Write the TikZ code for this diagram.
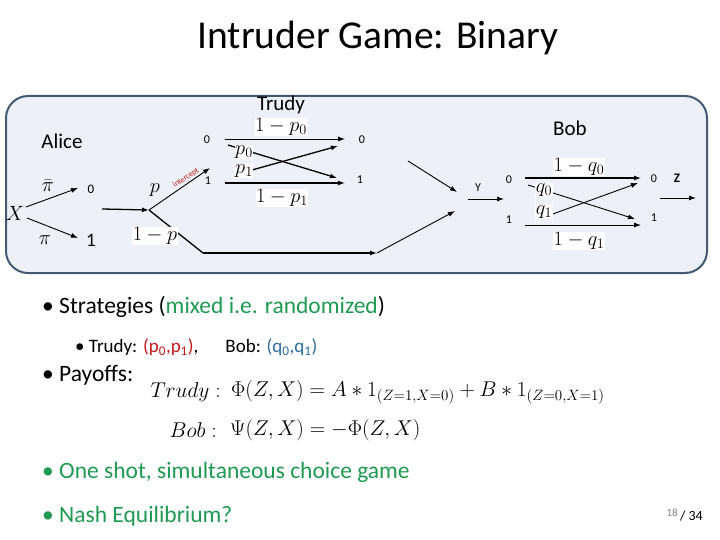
\RequirePackage{fix-cm}
\documentclass[tikz,border=0pt]{standalone}
\usepackage{fontspec}
\setmainfont{Carlito}
\usepackage{amsmath}
\usetikzlibrary{arrows.meta}
\definecolor{boxfill}{HTML}{EDF1F7}
\definecolor{boxline}{HTML}{435A75}
\definecolor{grn}{HTML}{1F9A52}
\definecolor{rd}{HTML}{C41A1A}
\definecolor{bl}{HTML}{2A6E9E}
\tikzset{
  arr/.style={-{Latex[length=7pt,width=5pt]}, line width=1.3pt},
  thin arr/.style={-{Latex[length=7pt,width=5pt]}, line width=0.9pt},
  mlbl/.style={fill=white, inner sep=0.5pt, font=\fontsize{20.4}{20.4}\selectfont},
  bit/.style={inner sep=0pt, font=\fontsize{12}{12}\selectfont},
  who/.style={inner sep=0pt, font=\fontsize{21}{21}\selectfont},
  body/.style={inner sep=0pt, anchor=west, font=\fontsize{23.5}{23.5}\selectfont},
  eqn/.style={inner sep=0pt, font=\fontsize{21.4}{21.4}\selectfont},
}
\begin{document}
\begin{tikzpicture}[x=1pt,y=-1pt]
\useasboundingbox (0,0) rectangle (720,540);
% title
\node[inner sep=0pt, font=\fontsize{39.5}{39.5}\selectfont] (title) at (378,38) {Intruder Game: Binary};
% box
\draw[rounded corners=22pt, line width=2pt, draw=boxline, fill=boxfill] (6,96) rectangle (707,273);
% players
\node[who] (trudy) at (281,105) {Trudy};
\node[who] (alice) at (62,141) {Alice};
\node[who] (bob) at (570,128) {Bob};
% Alice tree
\node[inner sep=0pt, font=\fontsize{20.7}{20.7}\selectfont] (X) at (15,213) {$X$};
\coordinate (xu) at (26,207);
\coordinate (xd) at (27,218);
\coordinate (a0) at (78,188);
\coordinate (a1) at (78,238);
\draw[thin arr] (xu) -- (a0);
\draw[thin arr] (xd) -- (a1);
\node[mlbl, fill=none] (pibar) at (48,186) {$\bar{\pi}$};
\node[mlbl, fill=none] (pi) at (45,240) {$\pi$};
\node[bit, font=\fontsize{13}{13}\selectfont] (A0) at (91,189) {0};
\node[bit, font=\fontsize{19}{19}\selectfont] (A1) at (91,240) {1};
% channel
\coordinate (h0) at (102,209);
\coordinate (br) at (149,210);
\draw[arr] (h0) -- (br);
\coordinate (tu) at (210,168);
\coordinate (ld) at (203,253);
\coordinate (lr) at (377,253);
\coordinate (ye) at (455,211);
\draw[thin arr] (br) -- (tu);
\draw[line width=1.3pt] (br) -- (ld);
\draw[arr] (ld) -- (lr);
\draw[thin arr] (lr) -- (ye);
\node[mlbl, fill=none] (plbl) at (155,190) {$p$};
\node[mlbl] (qlbl) at (155,236) {$1-p$};
\node[inner sep=0pt, text=rd, rotate=34, font=\fontsize{8}{8}\selectfont] (icpt) at (186,178) {intercept};
% Trudy
\node[bit] (T0) at (207,140) {0};
\node[bit] (T1) at (208,181) {1};
\coordinate (t0s) at (225,139);
\coordinate (t0e) at (345,139);
\coordinate (t1s) at (225,183);
\coordinate (t1e) at (345,183);
\coordinate (c1s) at (228,145);
\coordinate (c1e) at (337,178);
\coordinate (c2s) at (252,170);
\coordinate (c2e) at (338,146);
\draw[thin arr] (t0s) -- (t0e);
\draw[arr] (t1s) -- (t1e);
\draw[arr] (c1s) -- (c1e);
\draw[arr] (c2s) -- (c2e);
\node[mlbl] (l1p0) at (281,127) {$1-p_0$};
\node[mlbl] (lp0) at (244,152) {$p_0$};
\node[mlbl] (lp1) at (244,171) {$p_1$};
\node[mlbl] (l1p1) at (282,198) {$1-p_1$};
\node[bit] (R0) at (362,140) {0};
\node[bit] (R1) at (360,180) {1};
\coordinate (r1s) at (408,161);
\coordinate (r1e) at (457,192);
\draw[thin arr] (r1s) -- (r1e);
% Y
\node[bit] (Y) at (478,188) {Y};
\coordinate (ys) at (468,199);
\coordinate (yend) at (504,199);
\draw[thin arr] (ys) -- (yend);
% Bob
\node[bit] (B0) at (509,180) {0};
\node[bit] (B1) at (509,220) {1};
\coordinate (b0s) at (525,178);
\coordinate (b0e) at (641,178);
\coordinate (b1s) at (525,225);
\coordinate (b1e) at (641,225);
\coordinate (d1s) at (528,185);
\coordinate (d1e) at (635,219);
\coordinate (d2s) at (550,215);
\coordinate (d2e) at (638,183);
\draw[arr] (b0s) -- (b0e);
\draw[thin arr] (b1s) -- (b1e);
\draw[thin arr] (d1s) -- (d1e);
\draw[thin arr] (d2s) -- (d2e);
\node[mlbl] (l1q0) at (579,167) {$1-q_0$};
\node[mlbl] (lq0) at (544,190) {$q_0$};
\node[mlbl] (lq1) at (544,212) {$q_1$};
\node[mlbl] (l1q1) at (579,241) {$1-q_1$};
\node[bit] (Z0) at (654,179) {0};
\node[bit] (Z1) at (654,218) {1};
\node[bit, font=\bfseries\fontsize{13}{13}\selectfont] (Z) at (677,178) {Z};
\coordinate (zs) at (660,198);
\coordinate (ze) at (696,198);
\draw[thin arr] (zs) -- (ze);
% bullets
\node[body] (s1) at (42,307) {\textbullet\ Strategies (\textcolor{grn}{mixed i.e. randomized})};
\node[body, font=\fontsize{19}{19}\selectfont] (s2) at (75,347) {\textbullet\ Trudy: \textcolor{rd}{(p\textsubscript{0},p\textsubscript{1})},\hspace{27pt}Bob: \textcolor{bl}{(q\textsubscript{0},q\textsubscript{1})}};
\node[body] (s3) at (42,375) {\textbullet\ Payoffs:};
\node[eqn, anchor=east] (eq1l) at (221,392) {$Trudy:$};
\node[eqn, anchor=west] (eq1) at (231,392) {$\Phi(Z,X)=A*1_{(Z=1,X=0)}+B*1_{(Z=0,X=1)}$};
\node[eqn, anchor=east] (eq2l) at (217,430) {$Bob:$};
\node[eqn, anchor=west] (eq2) at (230,430) {$\Psi(Z,X)=-\Phi(Z,X)$};
\node[body, text=grn] (s4) at (42,472) {\textbullet\ One shot, simultaneous choice game};
\node[body, text=grn] (s5) at (42,516) {\textbullet\ Nash Equilibrium?};
\node[inner sep=0pt, anchor=east] (pg) at (703,515) {\textcolor{gray}{\fontsize{11}{11}\selectfont\raisebox{4pt}{18}}\fontsize{14}{14}\selectfont\,/ 34};
\end{tikzpicture}
\end{document}
